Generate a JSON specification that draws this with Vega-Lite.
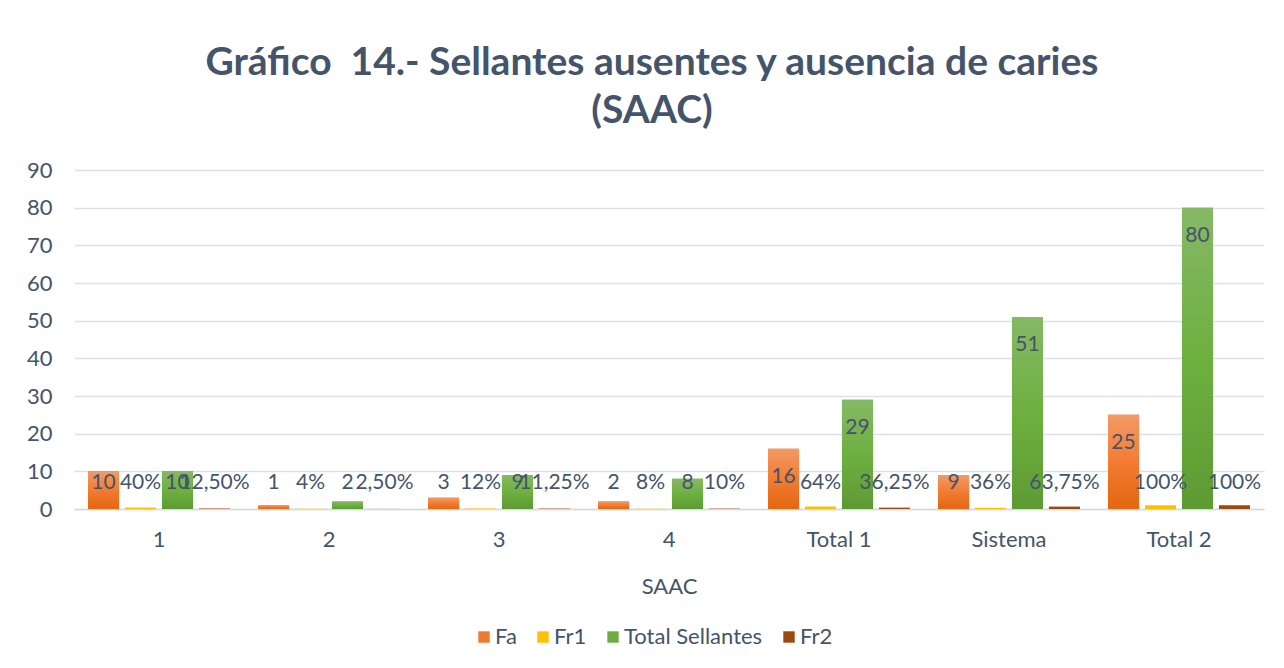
{
  "$schema": "https://vega.github.io/schema/vega-lite/v6.json",
  "width": 1190,
  "height": 339,
  "autosize": {"type": "none"},
  "padding": {"left": 74, "top": 170, "right": 20, "bottom": 159},
  "background": "white",
  "title": {
    "text": ["Gráfico \u00a014.- Sellantes ausentes y ausencia de caries", "(SAAC)"],
    "font": "Lato",
    "fontSize": 39,
    "fontWeight": "bold",
    "color": "#44546A",
    "anchor": "middle",
    "lineHeight": 48,
    "offset": 28,
    "dx": -17
  },
  "data": {
    "values": [
      {"cat": "1", "serie": "Fa", "value": 10, "label": "10"},
      {"cat": "1", "serie": "Fr1", "value": 0.4, "label": "40%"},
      {"cat": "1", "serie": "Total Sellantes", "value": 10, "label": "10"},
      {"cat": "1", "serie": "Fr2", "value": 0.125, "label": "12,50%"},
      {"cat": "2", "serie": "Fa", "value": 1, "label": "1"},
      {"cat": "2", "serie": "Fr1", "value": 0.04, "label": "4%"},
      {"cat": "2", "serie": "Total Sellantes", "value": 2, "label": "2"},
      {"cat": "2", "serie": "Fr2", "value": 0.025, "label": "2,50%"},
      {"cat": "3", "serie": "Fa", "value": 3, "label": "3"},
      {"cat": "3", "serie": "Fr1", "value": 0.12, "label": "12%"},
      {"cat": "3", "serie": "Total Sellantes", "value": 9, "label": "9"},
      {"cat": "3", "serie": "Fr2", "value": 0.1125, "label": "11,25%"},
      {"cat": "4", "serie": "Fa", "value": 2, "label": "2"},
      {"cat": "4", "serie": "Fr1", "value": 0.08, "label": "8%"},
      {"cat": "4", "serie": "Total Sellantes", "value": 8, "label": "8"},
      {"cat": "4", "serie": "Fr2", "value": 0.1, "label": "10%"},
      {"cat": "Total 1", "serie": "Fa", "value": 16, "label": "16"},
      {"cat": "Total 1", "serie": "Fr1", "value": 0.64, "label": "64%"},
      {"cat": "Total 1", "serie": "Total Sellantes", "value": 29, "label": "29"},
      {"cat": "Total 1", "serie": "Fr2", "value": 0.3625, "label": "36,25%"},
      {"cat": "Sistema", "serie": "Fa", "value": 9, "label": "9"},
      {"cat": "Sistema", "serie": "Fr1", "value": 0.36, "label": "36%"},
      {"cat": "Sistema", "serie": "Total Sellantes", "value": 51, "label": "51"},
      {"cat": "Sistema", "serie": "Fr2", "value": 0.6375, "label": "63,75%"},
      {"cat": "Total 2", "serie": "Fa", "value": 25, "label": "25"},
      {"cat": "Total 2", "serie": "Fr1", "value": 1, "label": "100%"},
      {"cat": "Total 2", "serie": "Total Sellantes", "value": 80, "label": "80"},
      {"cat": "Total 2", "serie": "Fr2", "value": 1, "label": "100%"}
    ]
  },
  "encoding": {
    "x": {
      "field": "cat",
      "type": "nominal",
      "sort": ["1", "2", "3", "4", "Total 1", "Sistema", "Total 2"],
      "scale": {"paddingInner": 0.165, "paddingOuter": 0.0825},
      "axis": {
        "title": "SAAC",
        "labelAngle": 0,
        "labelPadding": 20,
        "titlePadding": 26,
        "ticks": false,
        "domainColor": "#D9D9D9",
        "domainWidth": 1.5
      }
    },
    "xOffset": {
      "field": "serie",
      "type": "nominal",
      "scale": {"domain": ["Fa", "Fr1", "Total Sellantes", "Fr2"], "paddingInner": 0.16, "paddingOuter": 0}
    },
    "y": {
      "field": "value",
      "type": "quantitative",
      "scale": {"domain": [0, 90], "nice": false},
      "axis": {
        "title": null,
        "values": [0, 10, 20, 30, 40, 50, 60, 70, 80, 90],
        "labelOverlap": false,
        "domain": false,
        "ticks": false,
        "labelPadding": 22,
        "gridColor": "#DDE1E7",
        "gridWidth": 1.5
      }
    }
  },
  "layer": [
    {
      "mark": {"type": "bar"},
      "encoding": {
        "color": {
          "field": "serie",
          "type": "nominal",
          "scale": {
            "domain": ["Fa", "Fr1", "Total Sellantes", "Fr2"],
            "range": ["#EE7A30", "#FFC000", "#6CAC42", "#9E4812"]
          },
          "legend": {
            "title": null,
            "orient": "none",
            "legendX": 399,
            "legendY": 456,
            "direction": "horizontal",
            "symbolType": "square",
            "symbolSize": 130,
            "symbolStrokeWidth": 0,
            "columnPadding": 15,
            "labelOffset": 0
          }
        }
      }
    },
    {
      "transform": [{"filter": "datum.serie == 'Fa'"}],
      "mark": {
        "type": "bar",
        "color": {
          "gradient": "linear", "x1": 0, "y1": 0, "x2": 0, "y2": 1,
          "stops": [{"offset": 0, "color": "#F29A66"}, {"offset": 0.5, "color": "#F27C32"}, {"offset": 1, "color": "#E4670F"}]
        }
      }
    },
    {
      "transform": [{"filter": "datum.serie == 'Total Sellantes'"}],
      "mark": {
        "type": "bar",
        "color": {
          "gradient": "linear", "x1": 0, "y1": 0, "x2": 0, "y2": 1,
          "stops": [{"offset": 0, "color": "#86B865"}, {"offset": 0.5, "color": "#6EB040"}, {"offset": 1, "color": "#5E9A33"}]
        }
      }
    },
    {
      "transform": [{"filter": "datum.value >= 14"}],
      "mark": {"type": "text", "dy": 28, "baseline": "middle", "font": "Lato", "fontSize": 21, "color": "#44546A"},
      "encoding": {
        "text": {"field": "label"}
      }
    },
    {
      "transform": [{"filter": "datum.value < 14"}],
      "mark": {"type": "text", "dy": -26, "baseline": "middle", "font": "Lato", "fontSize": 21, "color": "#44546A"},
      "encoding": {
        "y": {"datum": 0},
        "text": {"field": "label"}
      }
    }
  ],
  "config": {
    "view": {"stroke": null},
    "font": "Lato",
    "axis": {
      "labelFont": "Lato",
      "labelFontSize": 22,
      "labelColor": "#44546A",
      "titleFont": "Lato",
      "titleFontSize": 22,
      "titleFontWeight": "normal",
      "titleColor": "#44546A"
    },
    "legend": {
      "labelFont": "Lato",
      "labelFontSize": 22,
      "labelColor": "#44546A"
    }
  }
}
